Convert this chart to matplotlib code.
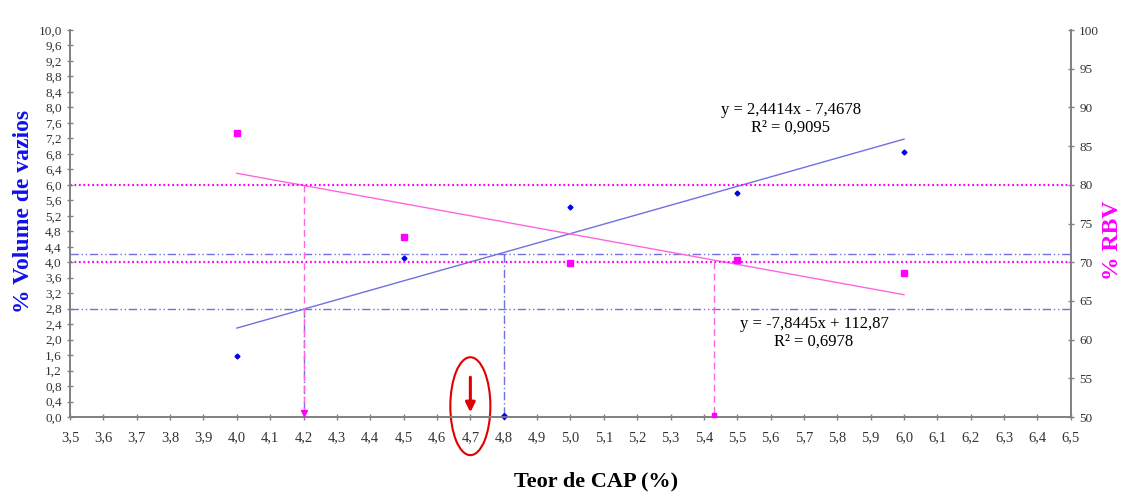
import matplotlib.pyplot as plt
from matplotlib.patches import Ellipse
import numpy as np

plt.rcParams['font.family'] = ['Liberation Serif', 'DejaVu Serif']

# data
teor = [4.0, 4.5, 5.0, 5.5, 6.0]
vv = [1.57, 4.10, 5.42, 5.80, 6.85]
rbv = [86.7, 73.3, 69.9, 70.3, 68.6]

vv_coef = (2.4414, -7.4678)
rbv_coef = (-7.8445, 112.87)

vv_limits = [2.8, 4.2]
rbv_limits = [80, 70]
teor_vv = [4.2, 4.8]
teor_rbv = [4.2, 5.43]
teor_otimo = 4.7

x_ticks = np.round(np.arange(3.5, 6.51, 0.1), 1)
y_ticks = np.round(np.arange(0, 10.01, 0.4), 1)
rbv_ticks = list(range(50, 101, 5))


def virgula(v, casas):
    return f"{v:.{casas}f}".replace('.', ',')


fig = plt.figure(figsize=(11.26, 4.92), dpi=100)
ax = fig.add_axes([0.0622, 0.1524, 0.8888, 0.7866])
ax2 = ax.twinx()

azul = '#0000ee'
azul_claro = '#7070e0'
rosa = '#ff00ff'
rosa_claro = '#ff66dd'

ax.set_xlim(3.5, 6.5)
ax.set_ylim(0, 10)
ax2.set_ylim(50, 100)

# trend lines
xl = np.array([teor[0], teor[-1]])
ax.plot(xl, vv_coef[0] * xl + vv_coef[1], color=azul_claro, lw=1)
ax2.plot(xl, rbv_coef[0] * xl + rbv_coef[1], color=rosa_claro, lw=1)

# points
ax.plot(teor, vv, 'D', color=azul, ms=2.5, zorder=5)
ax2.plot(teor, rbv, 's', color=rosa, ms=4, zorder=5)

# limit lines
for v in vv_limits:
    ax.axhline(v, color=azul_claro, lw=1, ls=(0, (6, 2, 1, 2, 1, 2)))
for v in rbv_limits:
    ax2.axhline(v, color=rosa, lw=1.6, ls=(0, (0.8, 1.2)))

# vertical projections
for xv, yv in zip(teor_vv, vv_limits):
    ax.plot([xv, xv], [yv, 0], color=azul_claro, lw=1, ls=(0, (6, 2, 1, 2)))
ax.plot(teor_vv[1], 0.02, 'D', color=azul, ms=3, clip_on=False, zorder=6)
for xv, yv in zip(teor_rbv, rbv_limits):
    ax2.plot([xv, xv], [yv, 50], color=rosa_claro, lw=1, ls=(0, (5, 3)))
ax2.plot(teor_rbv[0], 50.5, 'v', color=rosa, ms=5, clip_on=False, zorder=6)
ax2.plot(teor_rbv[1], 50.3, 's', color=rosa, ms=3, clip_on=False, zorder=6)

# equations
ax.text(5.66, 7.7, 'y = 2,4414x - 7,4678\nR² = 0,9095', ha='center', va='center',
        fontsize=12, linespacing=1.1)
ax.text(5.73, 2.17, 'y = -7,8445x + 112,87\nR² = 0,6978', ha='center', va='center',
        fontsize=12, linespacing=1.1)

# highlighted optimum content
ax.add_patch(Ellipse((teor_otimo, 0.28), 0.12, 2.53, fill=False, ec='#e00000',
                     lw=1.5, clip_on=False))
ax.annotate('', xy=(teor_otimo, 0.05), xytext=(teor_otimo, 1.1),
            arrowprops=dict(arrowstyle='-|>', color='#e00000', lw=2.2,
                            mutation_scale=14))

# axes styling
ax.set_xticks(x_ticks)
ax.set_xticklabels([virgula(v, 1) for v in x_ticks], fontsize=10.5, color='#333333')
ax.set_yticks(y_ticks)
ax.set_yticklabels([virgula(v, 1) for v in y_ticks], fontsize=9.5, color='#333333')
ax2.set_yticks(rbv_ticks)
ax2.set_yticklabels([str(v) for v in rbv_ticks], fontsize=9.5, color='#333333')

for a in (ax, ax2):
    a.spines['top'].set_visible(False)
    for s in ('left', 'right', 'bottom'):
        a.spines[s].set_color('#808080')
        a.spines[s].set_linewidth(1.2)
    a.tick_params(direction='inout', length=5, width=1, color='#808080')
ax.tick_params(axis='x', pad=8)

ax.set_xlabel('Teor de CAP (%)', fontsize=16, fontweight='bold')
ax.xaxis.set_label_coords(0.526, -0.142)
ax.set_ylabel('% Volume de vazios', fontsize=17, fontweight='bold', color='#1010ee')
ax.yaxis.set_label_coords(-0.036, 0.53)
ax2.set_ylabel('% RBV', fontsize=17, fontweight='bold', color=rosa)
ax2.yaxis.set_label_coords(1.031, 0.457)

fig.savefig('out.png', dpi=100)
